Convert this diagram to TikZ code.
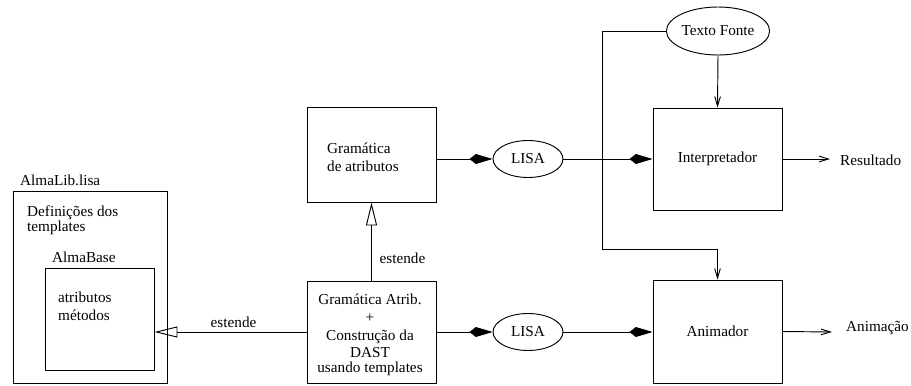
\documentclass[tikz,border=0pt]{standalone}
\usepackage{fontspec}
\setmainfont{Liberation Serif}
\usetikzlibrary{arrows.meta,shapes.geometric}
\newcommand\diagfont{\fontsize{13}{16}\selectfont}
\tikzset{
  blk/.style={draw,line width=0.8pt,inner sep=0pt,font=\diagfont},
  elp/.style={draw,ellipse,line width=0.8pt,inner sep=0pt,
    minimum width=2.1cm,minimum height=1.11cm,font=\diagfont},
  txt/.style={font=\diagfont,inner sep=0pt},
  agg/.style={-{Kite[length=6.9mm,width=3mm,inset=1.9mm]},line width=0.8pt},
  ext/.style={-{Triangle[open,length=6.9mm,width=3.3mm]},line width=0.8pt},
  flow/.style={-{Straight Barb[length=2.8mm,width=1.7mm]},line width=0.8pt},
}

\begin{document}
\begin{tikzpicture}[x=0.03cm,y=-0.03cm]
  \useasboundingbox (0,0) rectangle (911,385);
  % biblioteca
  \node[blk,minimum width=4.62cm,minimum height=5.76cm] (lib) at (90,287) {};
  \node[blk,minimum width=3.27cm,minimum height=3.06cm] (base) at (99.5,319) {};
  \node[txt,anchor=base west] (libname) at (20,185) {AlmaLib.lisa};
  \node[txt,anchor=north west,align=left] (defs) at (27,206)
    {Defini\c{c}\~oes dos\\[-3.2pt]templates};
  \node[txt,anchor=base west] (basename) at (52,262.5) {AlmaBase};
  \node[txt,anchor=north west,align=left] (membros) at (58,292)
    {atributos\\[-0.7pt]m\'etodos};
  % gramaticas
  \node[blk,minimum width=3.87cm,minimum height=2.85cm] (gram) at (371.5,154.5) {};
  \node[txt,anchor=north west,align=left] (gramtxt) at (327,143)
    {Gram\'atica\\[-1.2pt]de atributos};
  \node[blk,minimum width=3.87cm,minimum height=3.06cm] (gatrib) at (371.5,332) {};
  \node[txt,anchor=north,align=center] (gatribtxt) at (370,294)
    {Gram\'atica Atrib.\\[-0.9pt]+\\[-0.9pt]Constru\c{c}\~ao da\\[-0.9pt]DAST\\[-3.4pt]usando templates};
  % LISA
  \node[elp] (lisa1) at (528,159) {LISA};
  \node[elp] (lisa2) at (528,332) {LISA};
  % ferramentas
  \node[elp,minimum width=3.06cm,minimum height=1.44cm] (fonte) at (718,31) {Texto Fonte};
  \node[blk,minimum width=3.87cm,minimum height=3.06cm] (interp) at (717.5,159) {Interpretador};
  \node[blk,minimum width=3.87cm,minimum height=3.09cm] (anim) at (717.5,331.5) {Animador};
  \node[txt,anchor=base west] (res) at (840,165) {Resultado};
  \node[txt,anchor=base west] (animout) at (846,331.5) {Anima\c{c}\~ao};
  \coordinate (bend) at (602,249);
  \coordinate (resend) at (830,159);
  \coordinate (animend) at (832,332);
  % ligacoes
  \draw[agg] (gram.east |- lisa1.west) -- (lisa1.west);
  \draw[agg] (lisa1.east) -- (interp.west);
  \draw[agg] (gatrib.east) -- (lisa2.west);
  \draw[agg] (lisa2.east) -- (anim.west |- lisa2.east);
  \draw[ext] (gatrib.north) -- node[txt,anchor=west,xshift=6.5pt,pos=0.29] (est1) {estende} (gram.south);
  \draw[ext] (gatrib.west) -- node[txt,anchor=south,yshift=3pt,pos=0.48] (est2) {estende} (base.east |- gatrib.west);
  \draw[flow] (fonte.south) -- (interp.north);
  \draw[flow] (fonte.west) -| (bend) -| (anim.north);
  \draw[flow] (interp.east) -- (resend);
  \draw[flow] (anim.east) -- (animend);
\end{tikzpicture}
\end{document}
